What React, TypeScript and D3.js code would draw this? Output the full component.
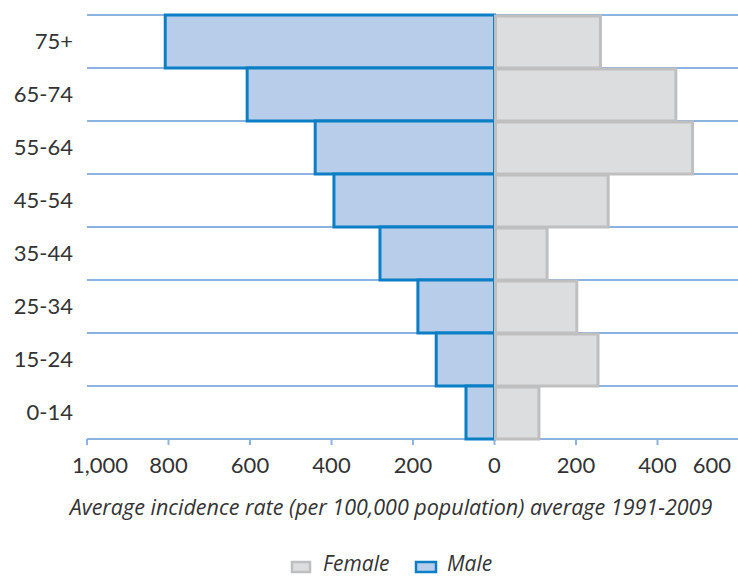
import React from "react";
import * as d3 from "d3";

const categories = ["75+", "65-74", "55-64", "45-54", "35-44", "25-34", "15-24", "0-14"];
const maleValues = [808, 607, 440, 394, 281, 188, 143, 70];
const femaleValues = [260, 445, 486, 279, 129, 202, 254, 109];
const tickValues = [-1000, -800, -600, -400, -200, 0, 200, 400, 600];
const axisTitle = "Average incidence rate (per 100,000 population) average 1991-2009";
const legendItems = ["Female", "Male"];

const W = 738;
const H = 576;
const FONT = "Lato, 'Open Sans', sans-serif";
const FONT_IT = "'Open Sans', Lato, sans-serif";

export default function App() {
  const x = d3.scaleLinear().domain([-1000, 600]).range([87, 739]);
  const y = d3.scaleBand<string>().domain(categories).range([15, 439]).padding(0);
  const fmt = d3.format(",");
  const gridColor = "#8db3e2";
  const textColor = "#333333";

  return (
    <svg width={W} height={H} style={{ position: "absolute", left: 0, top: 0, background: "#fff" }}>
      {/* gridlines */}
      {categories.map((c) => (
        <line key={"g" + c} x1={x(-1000)} x2={W} y1={y(c)!} y2={y(c)!} stroke={gridColor} strokeWidth={2} />
      ))}
      <line x1={x(-1000)} x2={W} y1={y.range()[1]} y2={y.range()[1]} stroke={gridColor} strokeWidth={2} />
      {/* ticks */}
      {tickValues.map((v) => (
        <line key={"t" + v} x1={x(v)} x2={x(v)} y1={439} y2={445} stroke={gridColor} strokeWidth={2} />
      ))}
      {/* male bars */}
      {categories.map((c, i) => (
        <rect
          key={"m" + c}
          x={x(-maleValues[i])}
          y={y(c)!}
          width={x(0) - x(-maleValues[i])}
          height={y.bandwidth()}
          fill="#b7cdea"
          stroke="#0a7fc5"
          strokeWidth={3}
        />
      ))}
      {/* female bars */}
      {categories.map((c, i) => (
        <rect
          key={"f" + c}
          x={x(0) + 1}
          y={y(c)! + 1}
          width={x(femaleValues[i]) - x(0) - 1}
          height={y.bandwidth() - 1}
          fill="#dcdddf"
          stroke="#bfbfbf"
          strokeWidth={3}
        />
      ))}
      {/* category labels */}
      {categories.map((c) => (
        <text
          key={"l" + c}
          x={73}
          y={y(c)! + y.bandwidth() / 2}
          dy="0.35em"
          textAnchor="end"
          fontFamily={FONT}
          fontSize={22}
          fill={textColor}
        >
          {c}
        </text>
      ))}
      {/* tick labels */}
      {tickValues.map((v) => {
        const px = x(v);
        const overR = px > W - 20;
        const overL = px < 100;
        return (
          <text
            key={"tl" + v}
            x={overR ? 731 : overL ? 72 : px}
            y={473}
            textAnchor={overR ? "end" : overL ? "start" : "middle"}
            fontFamily={FONT}
            fontSize={22}
            fill={textColor}
          >
            {fmt(Math.abs(v))}
          </text>
        );
      })}
      {/* axis title */}
      <text x={391} y={515} textAnchor="middle" fontFamily={FONT_IT} fontStyle="italic" fontSize={21.5} fill={textColor}>
        {axisTitle}
      </text>
      {/* legend */}
      <g>
        <rect x={292} y={562} width={18} height={10} fill="#dcdddf" stroke="#bfbfbf" strokeWidth={2.5} />
        <text x={323} y={571} fontFamily={FONT_IT} fontStyle="italic" fontSize={21} fill={textColor}>
          {legendItems[0]}
        </text>
        <rect x={416} y={562} width={20} height={10} fill="#b7cdea" stroke="#0a7fc5" strokeWidth={2.5} />
        <text x={447} y={571} fontFamily={FONT_IT} fontStyle="italic" fontSize={21} fill={textColor}>
          {legendItems[1]}
        </text>
      </g>
    </svg>
  );
}
